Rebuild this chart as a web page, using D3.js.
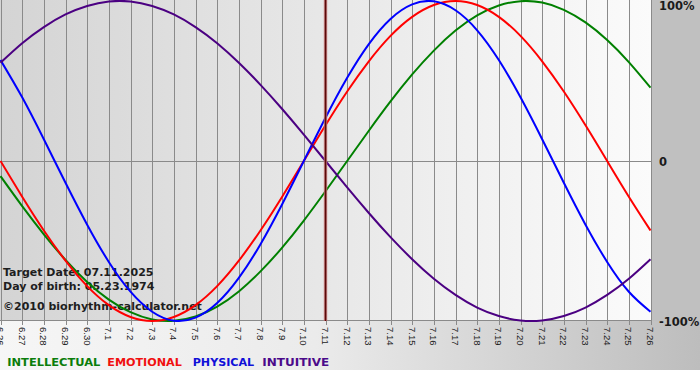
<!DOCTYPE html>
<html><head><meta charset="utf-8">
<script src="https://cdn.jsdelivr.net/npm/d3@7"></script>
<style>html,body{margin:0;padding:0;background:#fff;}svg{display:block;}</style>
</head><body>
<svg id="chart" width="700" height="380"></svg>
<script>
// Day labels (x categories)
const days = ["6.26","6.27","6.28","6.29","6.30","7.1","7.2","7.3","7.4","7.5","7.6","7.7","7.8","7.9","7.10","7.11","7.12","7.13","7.14","7.15","7.16","7.17","7.18","7.19","7.20","7.21","7.22","7.23","7.24","7.25","7.26"];
// Series values (%), one per day
const intellectual = [-9.5,-28.2,-45.8,-61.8,-75.6,-86.6,-94.5,-99.0,-99.9,-97.2,-91.0,-81.5,-69.0,-54.1,-37.2,-18.9,0,18.9,37.2,54.1,69.0,81.5,91.0,97.2,99.9,99.0,94.5,86.6,75.6,61.8,45.8];
const emotional = [0,-22.3,-43.4,-62.3,-78.2,-90.1,-97.5,-100,-97.5,-90.1,-78.2,-62.3,-43.4,-22.3,0,22.3,43.4,62.3,78.2,90.1,97.5,100,97.5,90.1,78.2,62.3,43.4,22.3,0,-22.3,-43.4];
const physical = [63.1,39.8,13.6,-13.6,-39.8,-63.1,-81.7,-94.2,-99.8,-97.9,-88.8,-73.1,-52.0,-27.0,0,27.0,52.0,73.1,88.8,97.9,99.8,94.2,81.7,63.1,39.8,13.6,-13.6,-39.8,-63.1,-81.7,-94.2];
const intuitive = [61.4,73.6,83.7,91.6,96.9,99.7,99.7,96.9,91.6,83.7,73.6,61.4,47.6,32.5,16.5,0,-16.5,-32.5,-47.6,-61.4,-73.6,-83.7,-91.6,-96.9,-99.7,-99.7,-96.9,-91.6,-83.7,-73.6,-61.4];
const seriesNames = ["INTELLECTUAL","EMOTIONAL","PHYSICAL","INTUITIVE"];
const yTickValues = [100, 0, -100];
const yTickLabels = ["100%", "0", "-100%"];
const targetDay = "7.11";
const infoLines = ["Target Date: 07.11.2025", "Day of birth: 05.23.1974", "\u00A92010 biorhythm-calculator.net"];

const colors = ["#008000", "#ff0000", "#0000ff", "#4b0082"];
const legendColors = ["#0b7d0b", "#f01010", "#1010d8", "#4b0a8a"];
const seriesData = [intellectual, emotional, physical, intuitive];

const svg = d3.select("#chart");
const W = 700, H = 380;
const plotL = 0.5, plotR = 650.5, plotT = 1, plotB = 321;

const x = d3.scalePoint().domain(days).range([plotL, plotR]);
const y = d3.scaleLinear().domain([-100, 100]).range([plotB, plotT]);

const defs = svg.append("defs");
const gPlot = defs.append("linearGradient").attr("id", "gplot").attr("x1", "0").attr("x2", "1").attr("y1", "0").attr("y2", "0");
gPlot.append("stop").attr("offset", "0").attr("stop-color", "#d4d4d4");
gPlot.append("stop").attr("offset", "1").attr("stop-color", "#fbfbfb");
const gBot = defs.append("linearGradient").attr("id", "gbot").attr("x1", "0").attr("x2", "1").attr("y1", "0").attr("y2", "0");
gBot.append("stop").attr("offset", "0").attr("stop-color", "#f6f6f6");
gBot.append("stop").attr("offset", "0.45").attr("stop-color", "#ebebeb");
gBot.append("stop").attr("offset", "1").attr("stop-color", "#bdbdbd");

// backgrounds
svg.append("rect").attr("x", 0).attr("y", 0).attr("width", W).attr("height", H).attr("fill", "#ffffff");
svg.append("rect").attr("x", 0).attr("y", plotB).attr("width", W).attr("height", 370 - plotB).attr("fill", "url(#gbot)");
svg.append("rect").attr("x", 651).attr("y", 0).attr("width", W - 651).attr("height", plotB).attr("fill", "#c0c0c0");
svg.append("rect").attr("x", 0).attr("y", 0).attr("width", 651).attr("height", plotB).attr("fill", "url(#gplot)");

// vertical gridlines
svg.append("g").selectAll("line").data(days).join("line")
  .attr("x1", d => Math.round(x(d)) + 0.5).attr("x2", d => Math.round(x(d)) + 0.5)
  .attr("y1", 0).attr("y2", plotB + 4)
  .attr("stroke", "#8a8a8a").attr("stroke-width", 1);

// zero line and bottom axis line
svg.append("line").attr("x1", 0).attr("x2", 651).attr("y1", Math.round(y(0)) + 0.5).attr("y2", Math.round(y(0)) + 0.5)
  .attr("stroke", "#8a8a8a").attr("stroke-width", 1);
svg.append("line").attr("x1", 0).attr("x2", 651).attr("y1", 320.5).attr("y2", 320.5)
  .attr("stroke", "#8a8a8a").attr("stroke-width", 1);

// bottom tick labels, rotated
svg.append("g").selectAll("text").data(days).join("text")
  .attr("transform", d => `translate(${x(d) - 3.5},327) rotate(90)`)
  .attr("text-anchor", "start")
  .attr("font-family", "Liberation Sans, Arial, sans-serif")
  .attr("font-size", 9.5)
  .attr("fill", "#222")
  .text(d => d);

// right tick labels
svg.append("g").selectAll("text").data(yTickValues).join("text")
  .attr("x", 659)
  .attr("y", d => Math.max(y(d) + 4.7, 10))
  .attr("font-family", "DejaVu Sans, Verdana, sans-serif")
  .attr("font-weight", "bold")
  .attr("font-size", 11.5)
  .attr("fill", "#1a1a1a")
  .text((d, i) => yTickLabels[i]);

// info text (under the curves)
svg.append("g").selectAll("text").data(infoLines).join("text")
  .attr("x", 3)
  .attr("y", (d, i) => [276, 290, 310][i])
  .attr("font-family", "DejaVu Sans, Verdana, sans-serif")
  .attr("font-weight", "bold")
  .attr("font-size", 11)
  .attr("fill", "#1e1e1e")
  .text(d => d);

// curves
const line = d3.line().x((d, i) => x(days[i])).y(d => y(d)).curve(d3.curveNatural);
svg.append("g").selectAll("path").data(seriesData).join("path")
  .attr("d", d => line(d))
  .attr("fill", "none")
  .attr("stroke", (d, i) => colors[i])
  .attr("stroke-width", 2)
  .attr("stroke-linejoin", "round");

// target date line
const tx = x(targetDay);
svg.append("line").attr("x1", tx).attr("x2", tx).attr("y1", 0).attr("y2", plotB)
  .attr("stroke", "#d08080").attr("stroke-width", 3.5).attr("opacity", 0.8);
svg.append("line").attr("x1", tx).attr("x2", tx).attr("y1", 0).attr("y2", plotB)
  .attr("stroke", "#5a0a0a").attr("stroke-width", 1.6);

// legend
const legendX = [7.3, 107.3, 192.7, 262.3];
svg.append("g").selectAll("text").data(seriesNames).join("text")
  .attr("x", (d, i) => legendX[i])
  .attr("y", 366)
  .attr("font-family", "DejaVu Sans, Verdana, sans-serif")
  .attr("font-weight", "bold")
  .attr("font-size", 11)
  .attr("textLength", (d, i) => [93, 74.5, 61.5, 67][i])
  .attr("lengthAdjust", "spacingAndGlyphs")
  .attr("fill", (d, i) => legendColors[i])
  .text(d => d);
</script>
</body></html>
